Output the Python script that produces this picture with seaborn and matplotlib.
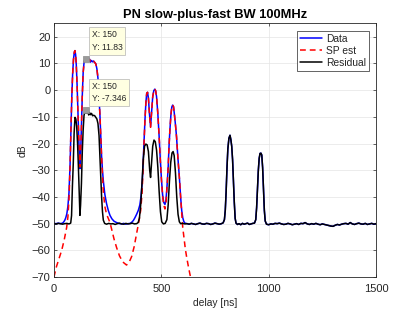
import matplotlib
matplotlib.use("Agg")
import matplotlib.pyplot as plt
import seaborn as sns
import numpy as np

# ---------------- data ----------------
# shared tail (t >= 620 ns): Data and Residual coincide here
tail_x = [620, 630, 640, 650, 660, 670, 680, 690, 700, 710, 720, 730, 740, 750, 760, 770, 780,
          788, 794, 798, 802, 806, 810, 815, 820, 824, 828, 832, 836, 840, 844, 848, 855, 862,
          870, 878, 886, 894, 902, 910, 918, 926, 934, 940, 944, 948, 952, 956, 960, 964, 968,
          972, 976, 980, 984, 990, 1000, 1010, 1020, 1030, 1040, 1050, 1060, 1070, 1080, 1090,
          1100, 1110, 1120, 1130, 1140, 1150, 1160, 1170, 1180, 1190, 1200, 1210, 1220, 1230,
          1240, 1250, 1260, 1270, 1280, 1290, 1300, 1310, 1320, 1330, 1340, 1350, 1360, 1370,
          1380, 1390, 1400, 1410, 1420, 1430, 1440, 1450, 1460, 1470, 1480, 1490, 1500]
tail_y = [-50.0, -50.2, -49.9, -50.1, -50.3, -50.0, -49.8, -50.1, -50.2, -49.9, -50.0, -50.3,
          -50.1, -49.8, -50.0, -50.2, -50.0, -49.7, -48.5, -45, -38, -29, -22, -18, -16.9, -18.5,
          -21, -26, -34, -42, -48, -49.8, -50.3, -50.0, -50.4, -49.9, -50.2, -50.0, -49.8, -50.3,
          -50.1, -49.9, -49.8, -48.5, -44, -37, -30, -25.5, -23.7, -23.6, -24.3, -29, -37, -45,
          -49, -50.2, -50.4, -50.1, -50.2, -49.9, -50.0, -49.8, -50.1, -50.3, -50.2, -49.9, -50.1,
          -50.4, -50.2, -50.0, -50.3, -49.9, -50.0, -49.6, -50.1, -50.3, -50.0, -50.2, -49.9,
          -50.2, -50.4, -50.1, -50.3, -50.5, -50.7, -50.9, -51.0, -50.6, -50.3, -50.5, -50.2,
          -50.0, -49.9, -50.2, -49.6, -50.1, -50.3, -50.0, -49.8, -50.1, -50.2, -49.9, -50.3,
          -50.1, -49.9, -50.2, -50.0]

# Data (blue), 0..610 ns
data_head_x = [0, 10, 20, 30, 40, 45, 50, 55, 60, 65, 70, 75, 79, 83, 87, 91, 95, 98, 101, 104,
               108, 112, 116, 121, 124, 128, 132, 136, 140, 144, 146, 150, 154, 158, 162, 166,
               170, 175, 180, 185, 190, 195, 200, 205, 210, 214, 218, 222, 226, 230, 237, 245,
               253, 261, 270, 280, 292, 305, 315, 325, 335, 345, 355, 362, 370, 377, 385, 393,
               400, 406, 412, 418, 424, 428, 432, 436, 440, 445, 450, 455, 460, 465, 470, 474,
               478, 484, 490, 496, 501, 506, 511, 517, 522, 527, 532, 536, 540, 545, 549, 553,
               557, 561, 566, 571, 577, 584, 590, 595, 600, 605, 610]
data_head_y = [-49.9, -50.0, -49.8, -50.0, -49.8, -49.4, -48.8, -47.8, -46.3, -43.5, -38.5, -28,
               -15, -3, 6, 11.5, 14.3, 14.8, 13.2, 9.5, 1.5, -9, -19, -29.4, -25, -14, -2, 6.5,
               10.2, 11.4, 11.0, 11.83, 11.0, 11.7, 10.9, 11.6, 10.5, 11.1, 10.6, 10.9, 10.3, 9.9,
               8.0, 4.5, -3, -9, -17, -25, -30, -34, -39, -42.5, -45, -46.9, -48.2, -49.1, -49.6,
               -50.0, -50.1, -49.9, -50.2, -50.0, -49.9, -49.5, -48.8, -47.8, -46.5, -45, -43,
               -39.5, -33.5, -22, -11, -5, -1.2, -0.8, -3, -9, -13.7, -8, -2.5, -0.2, 0.4, -0.3,
               -2.5, -9, -17.5, -27, -33.7, -39, -42, -42.8, -41, -35.5, -29, -21, -15, -9, -6.3,
               -5.6, -6.2, -9, -13, -17.5, -25, -32.5, -40, -45, -47.8, -49.2, -49.8]

# SP est (red dashed)
sp_x = [0, 12, 24, 36, 48, 59, 65, 70, 75, 79, 83, 87, 91, 95, 98, 101, 104, 108, 112, 116, 121,
        124, 128, 132, 136, 140, 144, 146, 150, 154, 158, 162, 166, 170, 175, 180, 185, 190, 195,
        200, 205, 210, 214, 218, 222, 226, 230, 237, 245, 253, 261, 270, 280, 292, 305, 320, 338,
        350, 362, 374, 385, 396, 404, 410, 415, 420, 424, 428, 432, 436, 440, 445, 450, 455, 460,
        465, 470, 474, 478, 484, 490, 496, 501, 506, 511, 517, 522, 527, 532, 536, 540, 545, 549,
        553, 557, 561, 566, 571, 577, 584, 590, 595, 600, 606, 612, 618, 626, 633, 640]
sp_y = [-70, -66, -63, -60, -56, -51.5, -47.5, -41, -29, -15, -3, 6, 11.5, 14.3, 14.8, 13.2, 9.5,
        1.5, -9, -19, -28.8, -24.5, -14, -2, 6.5, 10.2, 11.5, 11.1, 11.8, 11.1, 11.6, 11.0, 11.5,
        10.6, 11.0, 10.7, 10.8, 10.4, 9.8, 8.0, 4.5, -3, -9, -17, -25, -32, -38, -43.5, -46.5,
        -48, -49.6, -52.5, -55.8, -59, -62, -64.3, -65.5, -64.5, -62.3, -58.5, -53.7, -49, -45,
        -39, -30, -19, -11, -5, -1.2, -0.8, -3, -9, -13.9, -8, -2.5, -0.2, 0.4, -0.3, -2.5, -9,
        -17.5, -27, -34, -39.5, -43, -44.5, -42, -36, -29, -21, -15, -9, -6.3, -5.6, -6.2, -9,
        -13, -17.5, -25, -32.5, -40, -46, -51.5, -55.5, -59.5, -62.5, -66, -68.8, -71.5]

# Residual (black), 0..610 ns
res_head_x = [0, 10, 20, 30, 40, 50, 60, 70, 78, 82, 86, 90, 94, 98, 102, 106, 110, 114, 118, 121,
              124, 128, 132, 136, 140, 144, 146, 150, 154, 158, 162, 166, 170, 175, 180, 185, 190,
              195, 200, 205, 210, 214, 218, 222, 226, 230, 236, 245, 255, 265, 275, 285, 295, 305,
              315, 325, 335, 345, 355, 365, 375, 385, 392, 398, 404, 410, 416, 422, 428, 434, 440,
              446, 450, 455, 460, 466, 472, 478, 484, 490, 496, 502, 510, 518, 526, 532, 538, 544,
              550, 555, 560, 566, 572, 578, 584, 590, 600, 610]
res_head_y = [-50.0, -50.1, -49.9, -50.0, -50.2, -50.0, -49.9, -50.1, -49.8, -47, -36, -27.5, -16,
              -10.2, -10.8, -13.7, -20, -29, -40, -46.9, -43, -35, -23, -15, -9.5, -8.0, -8.6,
              -7.346, -8.7, -8.0, -9.3, -8.4, -9.2, -8.7, -9.6, -9.4, -9.6, -10.2, -10.8, -12.5,
              -17, -25, -33, -40, -45.5, -48.7, -49.9, -50.2, -49.9, -50.1, -50.0, -50.3, -50.0,
              -49.8, -50.1, -50.2, -49.9, -50.1, -50.0, -49.8, -50.1, -50.0, -49.6, -48, -43, -35,
              -26, -21, -20.2, -20.5, -23, -30, -32.7, -27, -21, -18.7, -19.3, -22.5, -29, -38,
              -45.5, -49.3, -50.1, -49.9, -48.5, -43, -34, -27, -23.5, -23.0, -24.5, -31, -40,
              -46.5, -49.3, -50.0, -49.9, -50.1]

data_x = data_head_x + tail_x
data_y = data_head_y + tail_y
res_x = res_head_x + tail_x
res_y = res_head_y + tail_y

tip_x = [150, 150]
tip_y = [11.83, -7.346]

title = "PN slow-plus-fast BW 100MHz"
xlabel = "delay [ns]"
ylabel = "dB"
xticks = [0, 500, 1000, 1500]
yticks = [-70, -60, -50, -40, -30, -20, -10, 0, 10, 20]

# ---------------- plot ----------------
sns.set_theme(style="ticks")
plt.rcParams["font.family"] = ["Liberation Sans", "DejaVu Sans"]
axc = "#262626"

fig = plt.figure(figsize=(4.15, 3.12), dpi=100)
ax = fig.add_axes([0.130, 0.112, 0.776, 0.813])

sns.lineplot(x=data_x, y=data_y, color="#0000ff", lw=1.1, label="Data",
             estimator=None, sort=False, ax=ax)
sns.lineplot(x=sp_x, y=sp_y, color="#ff0000", lw=1.1, label="SP est",
             estimator=None, sort=False, ax=ax, linestyle=(0, (3.8, 2.6)))
sns.lineplot(x=res_x, y=res_y, color="#000000", lw=1.1, label="Residual",
             estimator=None, sort=False, ax=ax)
sns.scatterplot(x=tip_x, y=tip_y, marker="s", s=14, color="#9a9a9a", edgecolor="#8a8a8a",
                linewidth=0.5, ax=ax, zorder=6, legend=False)

for x, y in zip(tip_x, tip_y):
    ax.annotate(f"X: {x:g}\nY: {y:g}", xy=(x, y), xytext=(3.9, 5.0), textcoords="offset points",
                ha="left", va="bottom", fontsize=6.2, color=axc, linespacing=1.45,
                bbox=dict(boxstyle="square,pad=0.35", fc="#ffffe1", ec="#b4b4b4", lw=0.5),
                zorder=7)

ax.set_xlim(0, 1500)
ax.set_ylim(-70, 25)
ax.set_xticks(xticks)
ax.set_yticks(yticks)
ax.grid(True, color="#e4e4e4", lw=0.5)
ax.set_axisbelow(True)
for s in ax.spines.values():
    s.set_color(axc)
    s.set_linewidth(0.6)
    s.set_visible(True)
ax.tick_params(direction="in", length=2.5, width=0.5, top=True, right=True,
               labelsize=8, colors=axc)
ax.tick_params(axis="x", pad=5)
ax.tick_params(axis="y", pad=2.5)

ax.set_title(title, fontsize=9.3, fontweight="bold", color="#000000", pad=4)
ax.set_xlabel(xlabel, fontsize=7.4, color=axc, labelpad=3)
ax.set_ylabel(ylabel, fontsize=7.4, color=axc, labelpad=3)

leg = ax.legend(loc="upper right", fontsize=7.4, frameon=True, fancybox=False,
                edgecolor=axc, framealpha=1, borderpad=0.3, labelspacing=0.2,
                handlelength=2.1, handletextpad=0.4, borderaxespad=0.7)
leg.get_frame().set_linewidth(0.5)

fig.savefig("out.png", dpi=100)
